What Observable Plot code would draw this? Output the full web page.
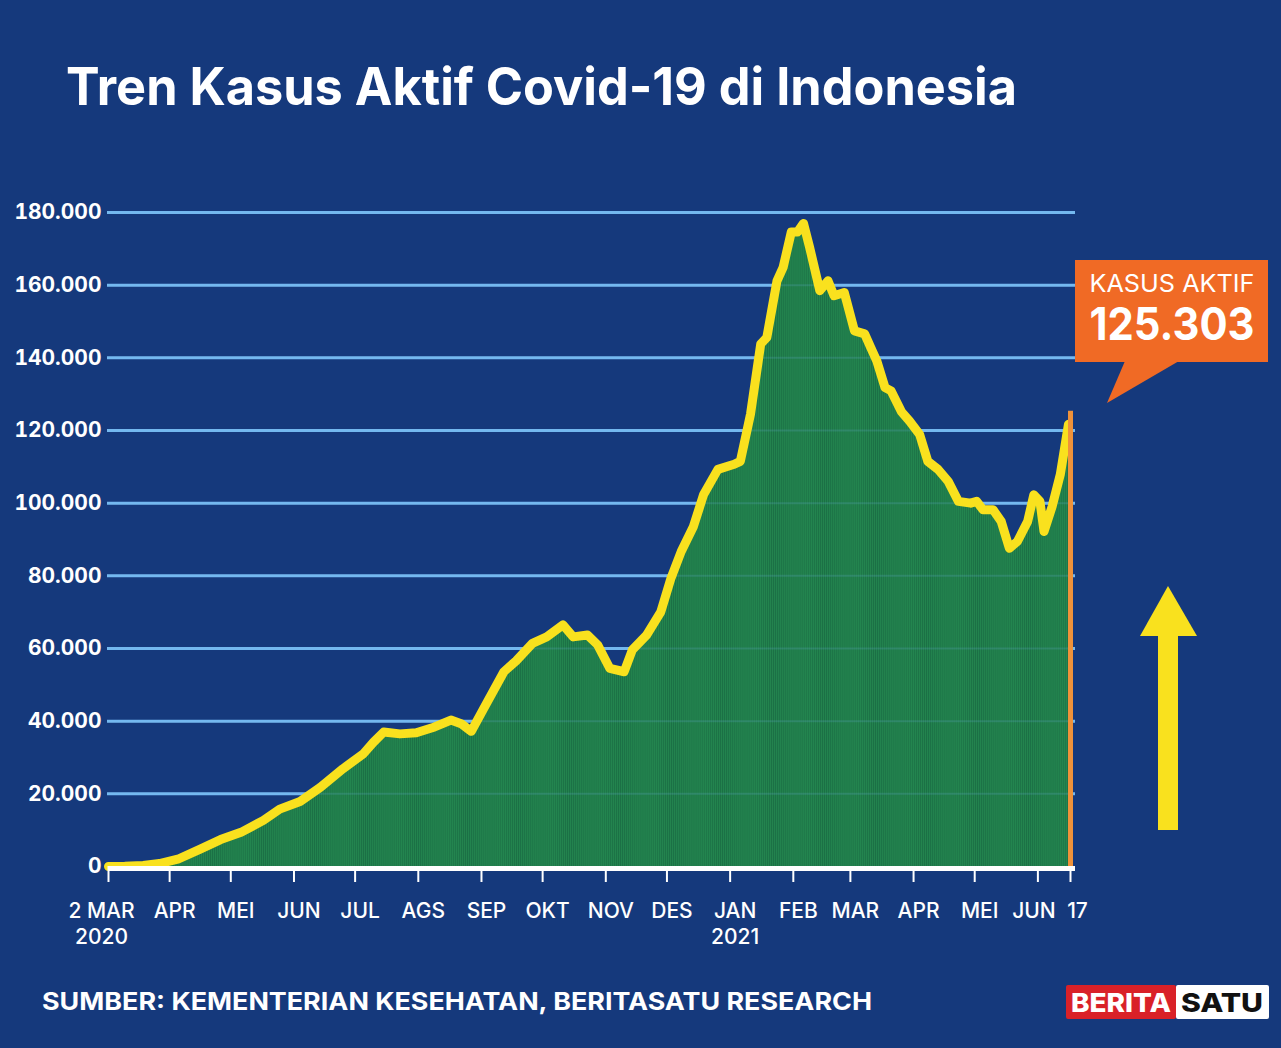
<!DOCTYPE html>
<html><head><meta charset="utf-8">
<script src="https://cdn.jsdelivr.net/npm/d3@7"></script>
<script src="https://cdn.jsdelivr.net/npm/@observablehq/plot@0.6"></script>
<style>
html,body{margin:0;padding:0;background:#15397c;}
#page{position:relative;width:1281px;height:1048px;overflow:hidden;background:#15397c;font-family:Inter,"Open Sans",sans-serif;color:#fff;}
.abs{position:absolute;white-space:nowrap;line-height:1;}
#chart{position:absolute;left:0;top:0;}
#deco{position:absolute;left:0;top:0;}
</style></head><body>
<div id="page">
  <div id="chart"></div>
  <div class="abs" id="title" style="left:66px;top:61px;font-size:52px;font-weight:700;">Tren Kasus Aktif Covid-19 di Indonesia</div>
  <div class="abs" id="source" style="left:42px;top:990px;font-size:24px;font-weight:700;">SUMBER: KEMENTERIAN KESEHATAN, BERITASATU RESEARCH</div>
  <svg id="deco" width="1281" height="1048">
    <rect x="1075" y="260" width="193" height="102" fill="#f06a25"/>
    <polygon points="1125,361 1179,361 1107,403" fill="#f06a25"/>
    <text id="kLabel" x="1172" y="292" text-anchor="middle" font-family="Inter, sans-serif" font-size="24" font-weight="400" fill="#fff">KASUS AKTIF</text>
    <text id="kValue" x="1172" y="340" text-anchor="middle" font-family="Inter, sans-serif" font-size="45" font-weight="700" fill="#fff">125.303</text>
    <rect x="1158" y="634" width="20" height="196" fill="#f9e11e"/>
    <polygon points="1140,636 1197,636 1168,586" fill="#f9e11e"/>
    <rect x="1066" y="985" width="110" height="34" rx="2" fill="#d92128"/>
    <rect x="1176" y="985" width="93" height="34" rx="2" fill="#ffffff"/>
    <text x="1121" y="1012" text-anchor="middle" font-family="Inter, sans-serif" font-size="26" font-weight="800" fill="#fff" textLength="100" lengthAdjust="spacingAndGlyphs">BERITA</text>
    <text x="1222" y="1012" text-anchor="middle" font-family="Inter, sans-serif" font-size="26" font-weight="800" fill="#111" textLength="82" lengthAdjust="spacingAndGlyphs">SATU</text>
  </svg>
</div>
<script>
// ---- data ----
const dates = ["2020-03-02","2020-03-10","2020-03-19","2020-03-27","2020-04-05","2020-04-16","2020-04-26","2020-05-06","2020-05-17","2020-05-25","2020-06-04","2020-06-14","2020-06-25","2020-07-05","2020-07-10","2020-07-15","2020-07-23","2020-07-31","2020-08-09","2020-08-17","2020-08-22","2020-08-27","2020-09-02","2020-09-12","2020-09-18","2020-09-26","2020-10-03","2020-10-11","2020-10-16","2020-10-23","2020-10-28","2020-11-03","2020-11-10","2020-11-14","2020-11-21","2020-11-28","2020-12-03","2020-12-08","2020-12-14","2020-12-19","2020-12-26","2021-01-03","2021-01-06","2021-01-11","2021-01-16","2021-01-19","2021-01-24","2021-01-27","2021-01-31","2021-02-03","2021-02-06","2021-02-09","2021-02-14","2021-02-18","2021-02-21","2021-02-26","2021-03-03","2021-03-08","2021-03-11","2021-03-14","2021-03-18","2021-03-21","2021-03-26","2021-03-30","2021-04-04","2021-04-08","2021-04-13","2021-04-18","2021-04-23","2021-04-29","2021-05-02","2021-05-05","2021-05-10","2021-05-14","2021-05-18","2021-05-22","2021-05-27","2021-05-30","2021-06-02","2021-06-04","2021-06-08","2021-06-12","2021-06-16"];
const activeCases = [0,40,300,800,2000,4800,7400,9400,12700,15800,17900,21800,26900,31000,34200,37000,36500,36800,38400,40300,39300,37200,43400,53600,56600,61400,63200,66500,63200,63700,61000,54500,53600,59600,63700,70100,79400,86700,93600,102400,109300,110700,111500,124500,143800,145600,161200,164900,174600,174600,177000,170400,158500,161200,157100,158000,147400,146600,142800,139100,131800,130900,125200,122600,118900,111500,109300,106000,100500,100000,100500,98200,98200,95000,87600,89500,95000,102300,100500,92200,99100,107900,121700];
const lastDate = "2021-06-17";
const lastValue = 125303;
const yTicks = [0,20000,40000,60000,80000,100000,120000,140000,160000,180000];
const xTickDates = ["2020-03-02","2020-04-01","2020-05-01","2020-06-01","2020-07-01","2020-08-01","2020-09-01","2020-10-01","2020-11-01","2020-12-01","2021-01-01","2021-02-01","2021-03-01","2021-04-01","2021-05-01","2021-06-01","2021-06-17"];
const xTickLabels = ["2 MAR\n2020","APR","MEI","JUN","JUL","AGS","SEP","OKT","NOV","DES","JAN\n2021","FEB","MAR","APR","MEI","JUN","17"];

const series = dates.map((d, i) => ({date: new Date(d), value: activeCases[i]}));
const last = [{date: new Date(lastDate), value: lastValue}];
const ticks = xTickDates.map((d, i) => ({date: new Date(d), label: xTickLabels[i]}));
const fmt = d => d3.format(",")(d).replace(/,/g, ".");
const n = ticks.length;
const labelOpts = {x: "date", text: "label", frameAnchor: "bottom", dy: 33, lineAnchor: "top", lineHeight: 1.25, fontSize: 21, fontWeight: 500, fill: "#fff"};

const plot = Plot.plot({
  width: 1281,
  height: 960,
  marginLeft: 108,
  marginRight: 211,
  marginTop: 212,
  marginBottom: 94,
  style: {background: "transparent", fontFamily: "Inter, 'Open Sans', sans-serif", color: "#fff", overflow: "visible"},
  x: {type: "utc", domain: [new Date("2020-03-02"), new Date(lastDate)]},
  y: {domain: [0, 180000]},
  marks: [
    Plot.ruleY(yTicks.filter(d => d > 0), {y: d => d, stroke: "#74b9f0", strokeWidth: 3, insetLeft: -1, insetRight: -5}),
    Plot.areaY(series, {x: "date", y: "value", fill: "url(#stripes)"}),
    Plot.ruleY(yTicks.filter(d => d > 0), {y: d => d, stroke: "#74b9f0", strokeWidth: 2, strokeOpacity: 0.18}),
    Plot.lineY(series, {x: "date", y: "value", stroke: "#f9e11e", strokeWidth: 9, strokeLinejoin: "round", strokeLinecap: "round"}),
    Plot.ruleX(last, {x: "date", y1: 0, y2: "value", stroke: "#ef923a", strokeWidth: 5}),
    Plot.ruleY([0], {y: d => d, stroke: "#ffffff", strokeWidth: 5, dy: 2, insetRight: -5}),
    Plot.axisY(yTicks, {tickSize: 0, tickPadding: 7, tickFormat: fmt, fontSize: 21, fontWeight: 700, fill: "#fff", label: null}),
    Plot.axisX(xTickDates.map(d => new Date(d)), {tickSize: 16, stroke: "#fff", strokeWidth: 2, tickFormat: () => "", label: null}),
    Plot.text(ticks.slice(0, 1), {...labelOpts, dx: -7}),
    Plot.text(ticks.slice(1, n - 2), {...labelOpts, dx: 5}),
    Plot.text(ticks.slice(n - 2, n - 1), {...labelOpts, dx: -4}),
    Plot.text(ticks.slice(n - 1), {...labelOpts, dx: 7})
  ]
});

// striped green pattern for the area
const defs = document.createElementNS("http://www.w3.org/2000/svg", "defs");
defs.innerHTML = `<pattern id="stripes" patternUnits="userSpaceOnUse" width="2.04" height="20">
  <rect width="2.04" height="20" fill="#23854f"/>
  <rect width="0.8" height="20" fill="#1b7045"/>
</pattern>`;
plot.insertBefore(defs, plot.firstChild);
document.getElementById("chart").appendChild(plot);

// fit text widths to reference
function fitWidth(id, w) {
  const el = document.getElementById(id);
  const r = el.getBoundingClientRect().width;
  el.style.transformOrigin = "left top";
  el.style.transform = `scaleX(${w / r})`;
}
fitWidth("title", 951);
fitWidth("source", 830);
function fitSvgText(id, w) {
  const el = document.getElementById(id);
  const r = el.getComputedTextLength();
  if (r > 0) { el.setAttribute("textLength", w); el.setAttribute("lengthAdjust", "spacingAndGlyphs"); }
}
fitSvgText("kLabel", 165);
fitSvgText("kValue", 165);
</script>
</body></html>
